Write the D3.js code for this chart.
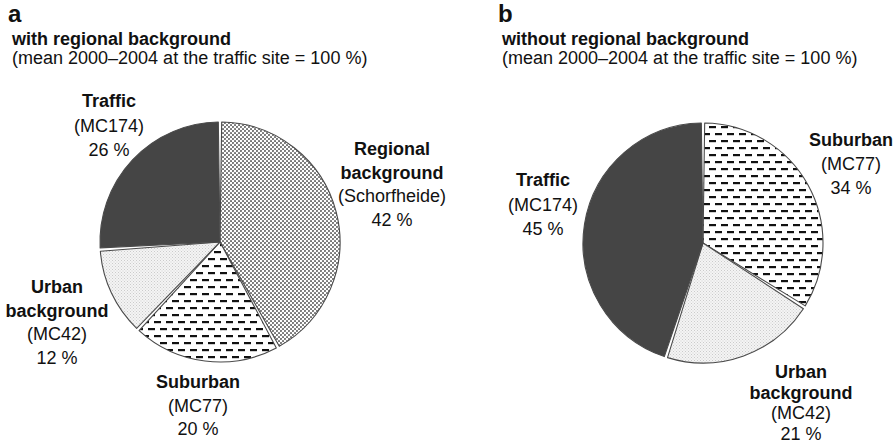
<!DOCTYPE html>
<html><head><meta charset="utf-8">
<script src="https://cdn.jsdelivr.net/npm/d3@7"></script>
<style>
html,body{margin:0;padding:0;background:#fff;}
svg{display:block;font-family:"Liberation Sans",Arial,Helvetica,sans-serif;}
</style></head>
<body>
<svg id="chart" width="896" height="445"></svg>
<script>
// ---- data ----
const panelLetters = ["a", "b"];
const panelTitles = ["with regional background", "without regional background"];
const panelSubtitle = "(mean 2000\u20132004 at the traffic site = 100 %)";

// panel a (clockwise from 12 o'clock)
const catsA = ["Regional background", "Suburban", "Urban background", "Traffic"];
const valuesA = [42, 20, 12, 26];
const labelsA = [
  [["Regional", true], ["background", true], ["(Schorfheide)", false], ["42 %", false]],
  [["Suburban", true], ["(MC77)", false], ["20 %", false]],
  [["Urban", true], ["background", true], ["(MC42)", false], ["12 %", false]],
  [["Traffic", true], ["(MC174)", false], ["26 %", false]]
];
// panel b
const catsB = ["Suburban", "Urban background", "Traffic"];
const valuesB = [34, 21, 45];
const labelsB = [
  [["Suburban", true], ["(MC77)", false], ["34 %", false]],
  [["Urban", true], ["background", true], ["(MC42)", false], ["21 %", false]],
  [["Traffic", true], ["(MC174)", false], ["45 %", false]]
];

// ---- layout (not data) ----
const R = 120;
const centers = [[220, 242], [703, 243]];
const labelPosA = [[172, -87], [-22, 146], [-163, 51], [-111, -135]];
const labelPosB = [[148, -97], [98, 135], [-160, -57]];
const lineHA = [23.5, 23.5, 23.5, 24.5];
const lineHB = [24, 20.6, 24.5];

const svg = d3.select("#chart");
const defs = svg.append("defs");

// patterns
const pDots = defs.append("pattern").attr("id", "dots").attr("patternUnits", "userSpaceOnUse")
  .attr("width", 4).attr("height", 4);
pDots.append("rect").attr("width", 4).attr("height", 4).attr("fill", "#fff");
pDots.append("circle").attr("cx", 1).attr("cy", 1).attr("r", 1.05).attr("fill", "#6e6e6e");
pDots.append("circle").attr("cx", 3).attr("cy", 3).attr("r", 1.05).attr("fill", "#6e6e6e");

const pDash = defs.append("pattern").attr("id", "dash").attr("patternUnits", "userSpaceOnUse")
  .attr("width", 12).attr("height", 14);
pDash.append("rect").attr("width", 12).attr("height", 14).attr("fill", "#fff");
pDash.append("rect").attr("x", 0).attr("y", 2).attr("width", 7).attr("height", 2.2).attr("fill", "#111");
pDash.append("rect").attr("x", 6).attr("y", 9).attr("width", 7).attr("height", 2.2).attr("fill", "#111");
pDash.append("rect").attr("x", -6).attr("y", 9).attr("width", 7).attr("height", 2.2).attr("fill", "#111");

const pHatch = defs.append("pattern").attr("id", "hatch").attr("patternUnits", "userSpaceOnUse")
  .attr("width", 3).attr("height", 3);
pHatch.append("rect").attr("width", 3).attr("height", 3).attr("fill", "#f4f4f4");
pHatch.append("rect").attr("x", 0).attr("y", 0).attr("width", 1).attr("height", 1).attr("fill", "#cbcbcb");
pHatch.append("rect").attr("x", 1.5).attr("y", 1.5).attr("width", 1).attr("height", 1).attr("fill", "#d3d3d3");

const fillFor = {
  "Regional background": "url(#dots)",
  "Suburban": "url(#dash)",
  "Urban background": "url(#hatch)",
  "Traffic": "#454545"
};

const pie = d3.pie().sort(null).value(d => d.v);
const arc = d3.arc().innerRadius(0).outerRadius(R).padAngle(0.028).padRadius(R);

function drawPanel(i, cats, values, labels, labelPos, lineH) {
  const x0 = i === 0 ? 8 : 498;
  const g = svg.append("g");
  g.append("text").attr("x", x0).attr("y", 22).attr("font-size", 24).attr("font-weight", "bold")
    .attr("fill", "#111").text(panelLetters[i]);
  g.append("text").attr("x", x0 + 4).attr("y", 45).attr("font-size", 18).attr("font-weight", "bold")
    .attr("fill", "#111").text(panelTitles[i]);
  g.append("text").attr("x", x0 + 4).attr("y", 64).attr("font-size", 18)
    .attr("fill", "#111").text(panelSubtitle);

  const data = cats.map((c, k) => ({c, v: values[k]}));
  const arcs = pie(data);
  const pg = g.append("g").attr("transform", `translate(${centers[i][0]},${centers[i][1]})`);
  pg.selectAll("path").data(arcs).join("path")
    .attr("d", arc)
    .attr("fill", d => fillFor[d.data.c])
    .attr("stroke", "#4a4a4a")
    .attr("stroke-width", 1.1)
    .attr("stroke-linejoin", "round");

  arcs.forEach((a, k) => {
    const t = pg.append("text").attr("text-anchor", "middle").attr("font-size", 18).attr("fill", "#111")
      .attr("transform", `translate(${labelPos[k][0]},${labelPos[k][1]})`);
    labels[k].forEach((ln, j) => {
      t.append("tspan").attr("x", 0).attr("y", j * lineH[k])
        .attr("font-weight", ln[1] ? "bold" : "normal").text(ln[0]);
    });
  });
}

drawPanel(0, catsA, valuesA, labelsA, labelPosA, lineHA);
drawPanel(1, catsB, valuesB, labelsB, labelPosB, lineHB);
</script>
</body></html>
